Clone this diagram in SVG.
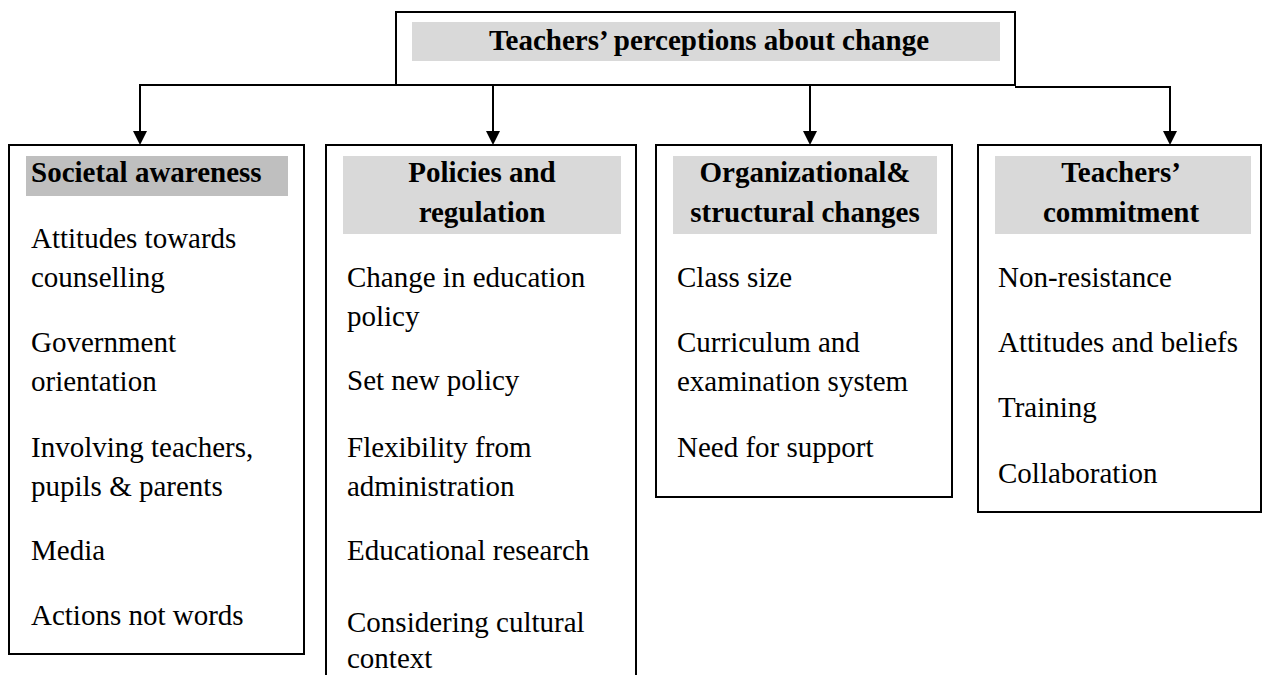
<svg xmlns="http://www.w3.org/2000/svg" width="1263" height="675" viewBox="0 0 1263 675">
<style>
.box{fill:#ffffff;stroke:#000;stroke-width:2}
.hd{fill:#d9d9d9}
.hd2{fill:#bfbfbf}
.b{font-family:"Liberation Serif","Times New Roman",serif;font-size:29px;font-weight:bold;fill:#000}
.t{font-family:"Liberation Serif","Times New Roman",serif;font-size:29px;fill:#000}
.c{text-anchor:middle}
.con{fill:none;stroke:#000;stroke-width:2}
</style>
<defs>
<marker id="ah" markerWidth="14" markerHeight="14" refX="7" refY="14" orient="auto" markerUnits="userSpaceOnUse" viewBox="0 0 14 14">
<path d="M0,0 L14,0 L7,14 Z" fill="#000" transform="rotate(-90 7 7)"/>
</marker>
</defs>
<rect width="1263" height="675" fill="#fff"/>
<g id="connectors">
<path class="con" d="M396,85 H140 V131"/>
<path d="M133,131 H147 L140,145 Z" fill="#000"/>
<path class="con" d="M493,85 V131"/>
<path d="M486,131 H500 L493,145 Z" fill="#000"/>
<path class="con" d="M810,85 V131"/>
<path d="M803,131 H817 L810,145 Z" fill="#000"/>
<path class="con" d="M1015,87 H1170 V131"/>
<path d="M1163,131 H1177 L1170,145 Z" fill="#000"/>
</g>
<g id="root">
<rect class="box" x="396" y="12" width="619" height="73"/>
<rect class="hd" x="412" y="22" width="588" height="39"/>
<text class="b c" x="709" y="50">Teachers’ perceptions about change</text>
</g>
<g id="societal">
<rect class="box" x="9" y="145" width="295" height="509"/>
<rect class="hd2" x="26" y="156" width="262" height="40"/>
<text class="b" x="31" y="182">Societal awareness</text>
<text class="t" x="31" y="248">Attitudes towards</text>
<text class="t" x="31" y="287">counselling</text>
<text class="t" x="31" y="352">Government</text>
<text class="t" x="31" y="391">orientation</text>
<text class="t" x="31" y="457">Involving teachers,</text>
<text class="t" x="31" y="496">pupils &amp; parents</text>
<text class="t" x="31" y="560">Media</text>
<text class="t" x="31" y="625">Actions not words</text>
</g>
<g id="policies">
<rect class="box" x="326" y="145" width="310" height="540"/>
<rect class="hd" x="343" y="156" width="278" height="78"/>
<text class="b c" x="482" y="182">Policies and</text>
<text class="b c" x="482" y="222">regulation</text>
<text class="t" x="347" y="287">Change in education</text>
<text class="t" x="347" y="326">policy</text>
<text class="t" x="347" y="390">Set new policy</text>
<text class="t" x="347" y="457">Flexibility from</text>
<text class="t" x="347" y="496">administration</text>
<text class="t" x="347" y="560">Educational research</text>
<text class="t" x="347" y="632">Considering cultural</text>
<text class="t" x="347" y="668">context</text>
</g>
<g id="organizational">
<rect class="box" x="656" y="145" width="296" height="352"/>
<rect class="hd" x="673" y="156" width="264" height="78"/>
<text class="b c" x="805" y="182">Organizational&amp;</text>
<text class="b c" x="805" y="222">structural changes</text>
<text class="t" x="677" y="287">Class size</text>
<text class="t" x="677" y="352">Curriculum and</text>
<text class="t" x="677" y="391">examination system</text>
<text class="t" x="677" y="457">Need for support</text>
</g>
<g id="commitment">
<rect class="box" x="978" y="145" width="283" height="367"/>
<rect class="hd" x="995" y="156" width="256" height="78"/>
<text class="b c" x="1121" y="182">Teachers’</text>
<text class="b c" x="1121" y="222">commitment</text>
<text class="t" x="998" y="287">Non-resistance</text>
<text class="t" x="998" y="352">Attitudes and beliefs</text>
<text class="t" x="998" y="417">Training</text>
<text class="t" x="998" y="483">Collaboration</text>
</g>
</svg>
